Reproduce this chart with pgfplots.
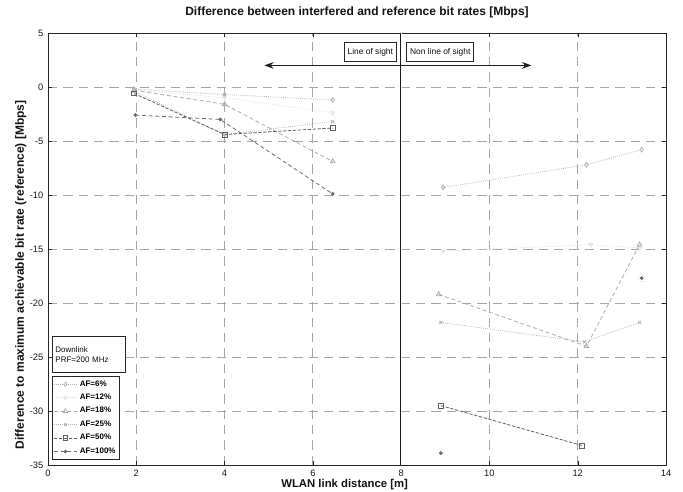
\documentclass[border=0pt]{standalone}
\usepackage{fontspec}
\setmainfont{Liberation Sans}
\usepackage{pgfplots}
\pgfplotsset{compat=1.18}
\usetikzlibrary{arrows.meta}
\begin{document}
\begin{tikzpicture}
\begin{axis}[
  at={(0,0)}, anchor=south west,
  scale only axis, width=463.5pt, height=324pt,
  xmin=0, xmax=14, ymin=-35, ymax=5,
  xtick={0,2,...,14}, ytick={-35,-30,...,5},
  grid=major,
  major grid style={gray!70, dash pattern=on 7pt off 4.5pt, line width=0.7pt},
  axis line style={gray!30!black, line width=0.7pt},
  tick style={gray!30!black},
  tick align=inside, major tick length=3pt,
  ticklabel style={font=\fontsize{7}{8}\selectfont, text=gray!20!black},
  /pgf/number format/assume math mode=true,
  title={Difference between interfered and reference bit rates [Mbps]},
  title style={font=\fontsize{9}{10}\selectfont\bfseries, text=gray!15!black, at={(axis description cs:0.5,1.03)}, anchor=center},
  xlabel={WLAN link distance [m]},
  xlabel style={font=\fontsize{8.5}{10}\selectfont\bfseries, text=gray!15!black, at={(axis description cs:0.48,-0.045)}, anchor=center},
  ylabel={Difference to maximum achievable bit rate (reference) [Mbps]},
  ylabel style={font=\fontsize{9}{10}\selectfont\bfseries, text=gray!15!black, at={(axis description cs:-0.044,0.44)}, anchor=center},
  unbounded coords=jump,
  legend cell align=left,
  legend style={at={(rel axis cs:0.006,0.0116)}, anchor=south west, draw=gray!30!black, line width=0.6pt,
    font=\fontsize{6}{7}\selectfont\bfseries, inner sep=1.2pt, row sep=0.4pt, fill=white},
  legend image post style={line width=0.5pt},
]
% 6%
\addplot[gray!60, densely dotted, line width=0.6pt, mark=diamond, mark size=1.8pt, mark options={solid}] coordinates {
 (1.95,-0.2) (4.0,-0.7) (6.45,-1.2) (7,nan) (8.95,-9.3) (12.2,-7.2) (13.45,-5.8)};
\addlegendentry{AF=6\%}
% 12%
\addplot[gray!25, densely dotted, line width=0.6pt, mark=triangle, mark size=1.6pt, mark options={solid, rotate=180}] coordinates {
 (1.95,-0.3) (4.0,-1.0) (6.45,-2.4) (7,nan) (8.95,-15.2) (12.3,-14.6) (13.4,-14.9)};
\addlegendentry{AF=12\%}
% 18%
\addplot[gray!65, dash pattern=on 3pt off 2pt, line width=0.6pt, mark=triangle, mark size=2pt, mark options={solid}] coordinates {
 (1.95,-0.3) (4.0,-1.6) (6.45,-6.9) (7,nan) (8.85,-19.2) (12.2,-24.0) (13.4,-14.6)};
\addlegendentry{AF=18\%}
% 25%
\addplot[gray!60, densely dotted, line width=0.6pt, mark=x, mark size=1.6pt, mark options={solid}] coordinates {
 (1.95,-0.4) (4.0,-4.4) (6.45,-3.2) (7,nan) (8.9,-21.8) (12.15,-23.6) (13.4,-21.8)};
\addlegendentry{AF=25\%}
% 50%
\addplot[gray!75!black, dash pattern=on 2.5pt off 1.2pt, line width=0.6pt, mark=square, mark size=1.8pt, mark options={solid}] coordinates {
 (1.95,-0.6) (4.0,-4.4) (6.45,-3.8) (7,nan) (8.9,-29.5) (12.1,-33.2)};
\addlegendentry{AF=50\%}
% 100%
\addplot[gray!85!black, densely dashed, line width=0.6pt, mark=*, mark size=1.1pt, mark options={solid}] coordinates {
 (1.98,-2.6) (3.9,-3.0) (6.45,-9.9) (7,nan) (8.9,-33.9) (12,nan) (13.45,-17.7)};
\addlegendentry{AF=100\%}
% extra circle around isolated point
\addplot[gray!60, densely dotted, only marks, mark=o, mark size=3pt, forget plot] coordinates {(13.45,-17.7)};
% vertical separator
\addplot[gray!20!black, line width=1.4pt, forget plot] coordinates {(8,-35) (8,5)};
\addplot[white, line width=0.3pt, forget plot] coordinates {(8,-35) (8,5)};
% arrows
\draw[gray!25!black, line width=0.9pt, -{Stealth[length=7pt,width=5pt]}] (axis cs:8,2.0) -- (axis cs:4.9,2.0);
\draw[gray!25!black, line width=0.9pt, -{Stealth[length=7pt,width=5pt]}] (axis cs:8,2.0) -- (axis cs:10.95,2.0);
\node[draw=gray!30!black, fill=white, line width=0.6pt, font=\fontsize{6.3}{7}\selectfont, text=gray!10!black, minimum height=14pt, inner sep=2.5pt, anchor=south east] at (axis cs:7.9,2.35) {Line of sight};
\node[draw=gray!30!black, fill=white, line width=0.6pt, font=\fontsize{6.3}{7}\selectfont, text=gray!10!black, minimum height=14pt, inner sep=2.5pt, anchor=south west] at (axis cs:8.12,2.35) {Non line of sight};
\node[draw=gray!30!black, fill=white, line width=0.6pt, font=\fontsize{6}{7.5}\selectfont, text=gray!10!black, align=left, text width=50pt, minimum height=27pt, inner sep=2.5pt, anchor=south west] at (rel axis cs:0.006,0.214) {Downlink\\PRF=200 MHz};
\end{axis}
\pgfresetboundingbox
\path (-36pt,-20.25pt) rectangle (476.25pt,348.75pt);
\end{tikzpicture}
\end{document}
